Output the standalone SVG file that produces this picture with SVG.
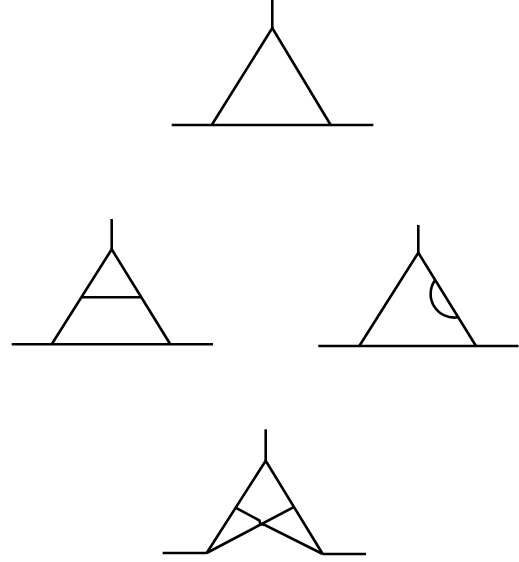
<svg xmlns="http://www.w3.org/2000/svg" width="519" height="562" viewBox="0 0 519 562">
<style>
.s{fill:none;stroke:#000;stroke-width:2.6;stroke-linejoin:miter;stroke-linecap:butt}
</style>
<rect width="519" height="562" fill="#fff"/>
<g id="fig1" class="s">
<path d="M272.3,0 V28"/>
<path d="M211.7,125 L272.3,28 L330.7,125"/>
<path d="M171.7,125 H373.3"/>
</g>
<g id="fig2" class="s">
<path d="M111.7,219 V249.3"/>
<path d="M51.7,344.3 L111.7,249.3 L170.3,344.3"/>
<path d="M11.7,344.3 H213"/>
<path d="M81.4,297.3 H141.4"/>
</g>
<g id="fig3" class="s">
<path d="M418.3,225 V252.7"/>
<path d="M359.3,346 L418.3,252.7 L476,346"/>
<path d="M318.3,346 H518.5"/>
<path d="M435,280.3 A23.6,23.6 0 0 0 457.9,317.3"/>
</g>
<g id="fig4" class="s">
<path d="M265.7,429.3 V460.7"/>
<path d="M206.7,553 L265.7,460.7 L322.7,554"/>
<path d="M162.7,553 H206.7"/>
<path d="M322.7,554 H366"/>
<path d="M206.7,553 L293.3,507.3"/>
<path d="M235,507.3 L259.5,520.5 Q259.5,525 264.5,524.8 L322.7,554"/>
</g>
</svg>
